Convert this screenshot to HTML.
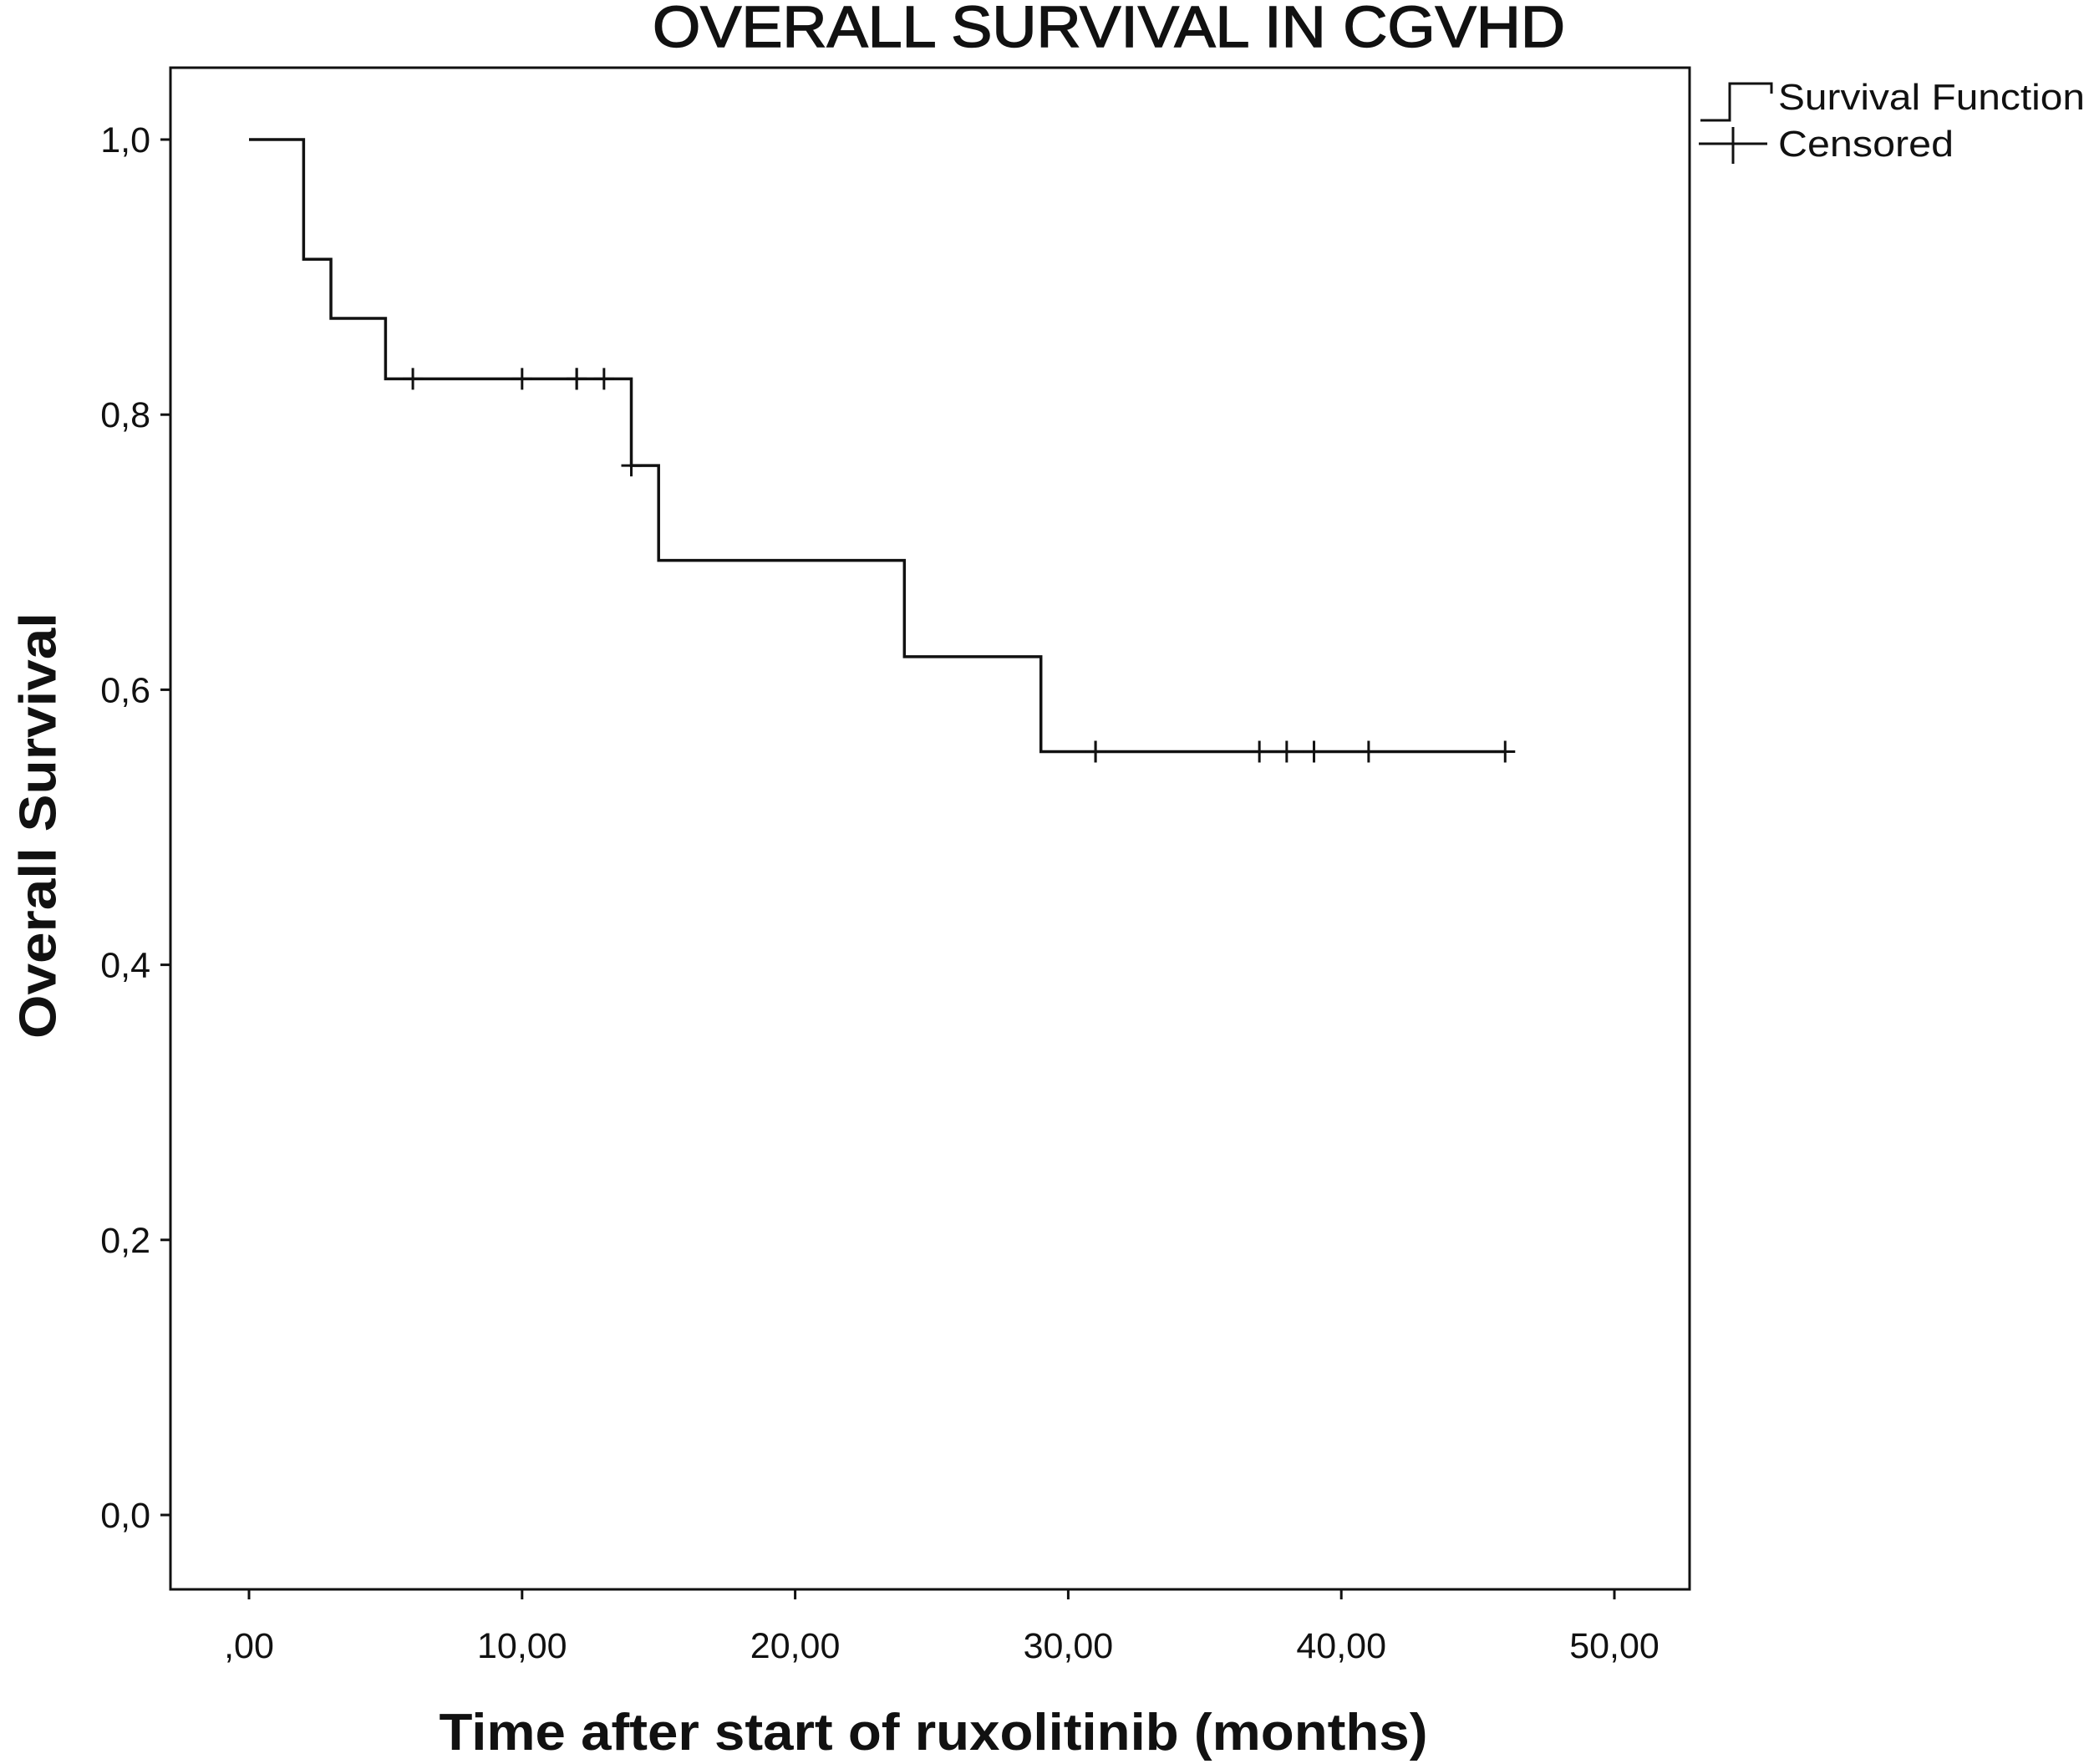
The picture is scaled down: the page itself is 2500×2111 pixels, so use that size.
<!DOCTYPE html>
<html><head><meta charset="utf-8"><style>
html,body{margin:0;padding:0;background:#fff}
svg{display:block}
text{font-family:"Liberation Sans",Arial,sans-serif;fill:#111}
</style></head><body>
<svg id="c" width="2500" height="2111" viewBox="0 0 2500 2111" xmlns="http://www.w3.org/2000/svg">
<text x="1327" y="56" font-size="70" text-anchor="middle" textLength="1092" lengthAdjust="spacingAndGlyphs" stroke="#111" stroke-width="1.5">OVERALL SURVIVAL IN CGVHD</text>
<rect x="204" y="81" width="1818" height="1821" fill="none" stroke="#111" stroke-width="3"/>
<g id="axes"></g>
<g id="series"></g>
<text x="1117" y="2094" font-size="62" font-weight="bold" text-anchor="middle" textLength="1183" lengthAdjust="spacingAndGlyphs">Time after start of ruxolitinib (months)</text>
<text transform="translate(50,988) rotate(-90)" font-size="62" font-weight="bold" text-anchor="middle" dominant-baseline="middle" textLength="510" lengthAdjust="spacingAndGlyphs">Overall Survival</text>
<g>
<path d="M2035,144 H2070 V100 H2120 V112" fill="none" stroke="#111" stroke-width="3"/>
<text x="2128" y="131" font-size="44" textLength="367" lengthAdjust="spacingAndGlyphs">Survival Function</text>
<path d="M2033,172 H2115 M2074,152 V196" fill="none" stroke="#111" stroke-width="3"/>
<text x="2128" y="187" font-size="44" textLength="210" lengthAdjust="spacingAndGlyphs">Censored</text>
</g>
</svg>
<script>
const stepTimes = [0, 2, 3, 5, 14, 15, 24, 29];
const stepSurv = [1.0, 0.913, 0.870, 0.826, 0.763, 0.694, 0.624, 0.555];
const endTime = 46;
const censorTimes = [6, 10, 12, 12, 13, 14, 31, 31, 37, 38, 39, 41, 46];
const xTicks = [0, 10, 20, 30, 40, 50];
const xTickLabels = [",00", "10,00", "20,00", "30,00", "40,00", "50,00"];
const yTicks = [0, 0.2, 0.4, 0.6, 0.8, 1.0];
const yTickLabels = ["0,0", "0,2", "0,4", "0,6", "0,8", "1,0"];

const NS = "http://www.w3.org/2000/svg";
const X = t => 298 + t * (1932 - 298) / 50;
const Y = s => 1813 - s * (1813 - 167);
function survAt(t){let s=stepSurv[0];for(let i=0;i<stepTimes.length;i++){if(stepTimes[i]<=t)s=stepSurv[i];}return s;}
function mk(tag, attrs){const e=document.createElementNS(NS,tag);for(const k in attrs)e.setAttribute(k,attrs[k]);return e;}
const axes=document.getElementById('axes'), series=document.getElementById('series');

xTicks.forEach((v,i)=>{
  const l=mk('line',{x1:X(v),x2:X(v),y1:1902,y2:1914,stroke:'#111','stroke-width':3});
  
  
  axes.appendChild(l);
  const t=mk('text',{x:X(v),y:1984,'font-size':43,'text-anchor':'middle'});
  t.textContent=xTickLabels[i];
  
  
  axes.appendChild(t);
});
yTicks.forEach((v,i)=>{
  const l=mk('line',{x1:192,x2:204,y1:Y(v),y2:Y(v),stroke:'#111','stroke-width':3});
  
  
  axes.appendChild(l);
  const t=mk('text',{x:180,y:Y(v)+15,'font-size':43,'text-anchor':'end'});
  t.textContent=yTickLabels[i];
  
  
  axes.appendChild(t);
});

let d=`M${X(stepTimes[0])},${Y(stepSurv[0])}`;
for(let i=1;i<stepTimes.length;i++){d+=` H${X(stepTimes[i])} V${Y(stepSurv[i])}`;}
d+=` H${X(endTime)}`;
const p=mk('path',{d:d,fill:'none',stroke:'#111','stroke-width':3.5});


series.appendChild(p);

censorTimes.forEach(t=>{
  const x=X(t), y=Y(survAt(t));
  const c=mk('path',{d:`M${x},${y-13} V${y+13} M${x-12},${y} H${x+12}`,stroke:'#111','stroke-width':3,fill:'none'});
  
  
  series.appendChild(c);
});
</script>
</body></html>
